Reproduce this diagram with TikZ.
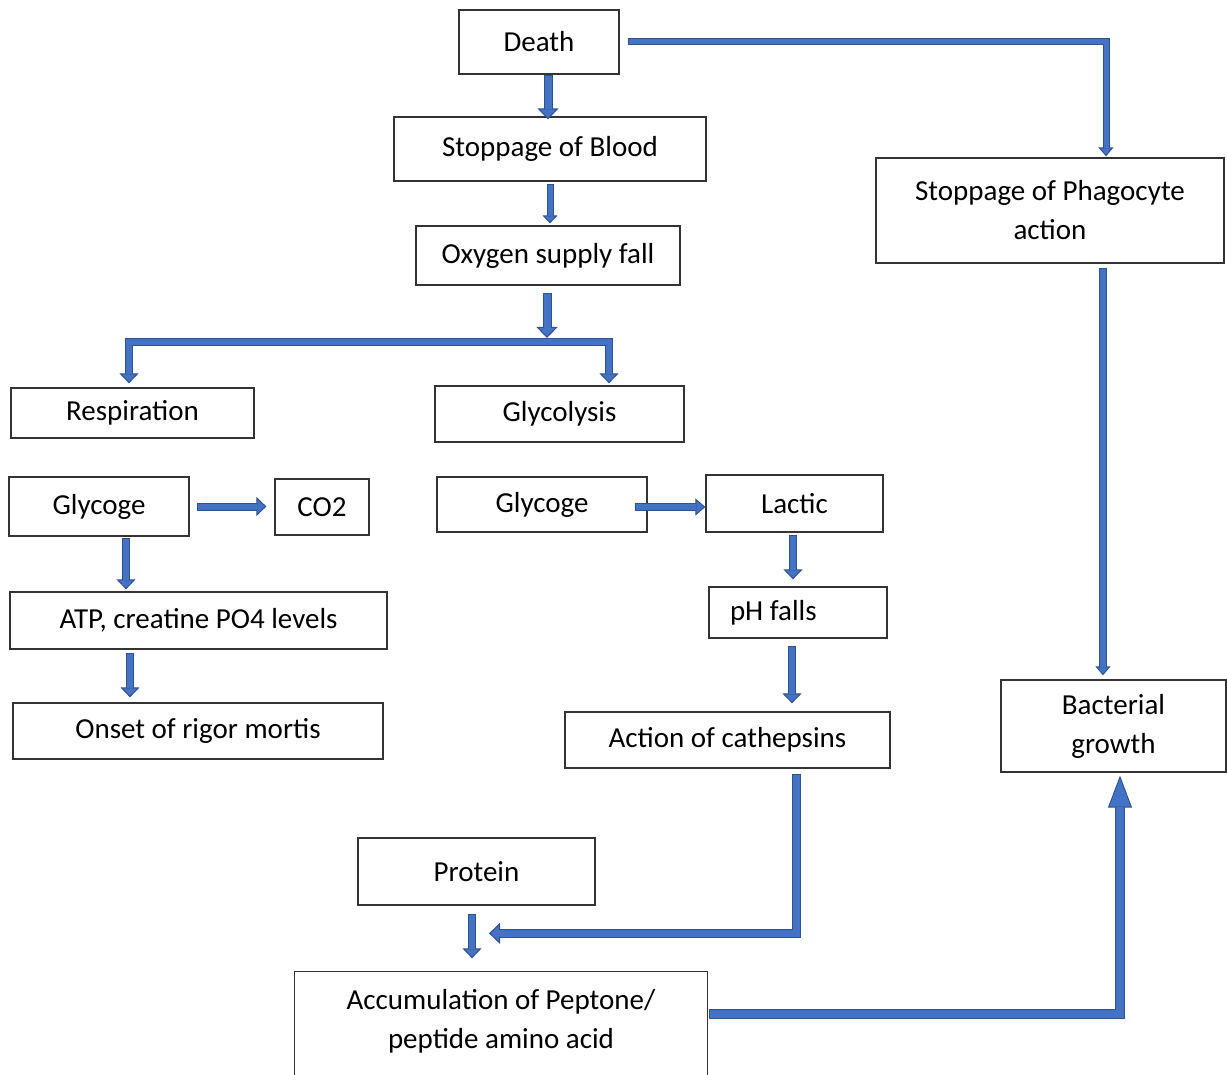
\documentclass[tikz,border=0pt]{standalone}
\usepackage{fontspec}
\setmainfont{Carlito}
\usetikzlibrary{arrows.meta,calc}
\definecolor{afill}{HTML}{4472C4}
\definecolor{aedge}{HTML}{2F528F}
\tikzset{
  box/.style={draw=black!80, line width=1.3, inner sep=0, align=center,
    font=\fontsize{29}{39}\selectfont},
  blockarrow/.style n args={5}{% shaft, inner, head width, head length, shorten
    draw=aedge, line width=#1, line join=miter,
    arrows={-Triangle[width=#3,length=#4,fill=afill,line width=1]},
    postaction={draw=afill, line width=#2, arrows=-, shorten >=#5, shorten <=1, line join=miter}},
  dblarrow/.style n args={5}{%
    draw=aedge, line width=#1, line join=miter,
    arrows={Triangle[width=#3,length=#4,fill=afill,line width=1]-Triangle[width=#3,length=#4,fill=afill,line width=1]},
    postaction={draw=afill, line width=#2, arrows=-, shorten >=#5, shorten <=#5, line join=miter}},
}
\begin{document}
\begin{tikzpicture}[x=1pt,y=-1pt]
\useasboundingbox (0,0) rectangle (1227,1075);
\clip (0,0) rectangle (1227,1075);
\fill[white] (0,0) rectangle (1227,1075);

% boxes
\node[box, minimum width=160, minimum height=64] (death) at (539,42) {Death};
\node[box, minimum width=312, minimum height=64] (sob) at (550,149) {Stoppage of Blood};
\node[box, minimum width=264, minimum height=59] (oxy) at (548,255.5) {Oxygen supply fall};
\node[box, minimum width=348, minimum height=105] (phago) at (1050,210.5) {Stoppage of Phagocyte\\action};
\node[box, minimum width=243, minimum height=50] (resp) at (132.5,413) {Respiration};
\node[box, minimum width=249, minimum height=56] (glycol) at (559.5,414) {Glycolysis};
\node[box, minimum width=180, minimum height=59] (glyL) at (99,506.5) {Glycoge};
\node[box, minimum width=94, minimum height=56] (co2) at (322,507) {CO2};
\node[box, minimum width=210, minimum height=55] (glyM) at (542,504.5) {Glycoge};
\node[box, minimum width=177, minimum height=57] (lactic) at (794.5,503.5) {Lactic};
\node[box, minimum width=178, minimum height=51] (ph) at (798,612.5) {\makebox[136pt][l]{pH falls}};
\node[box, minimum width=377, minimum height=57] (atp) at (198.5,620.5) {ATP, creatine PO4 levels};
\node[box, minimum width=370, minimum height=56] (onset) at (198,731) {Onset of rigor mortis};
\node[box, minimum width=325, minimum height=56] (cath) at (727.5,740) {Action of cathepsins};
\node[box, minimum width=225, minimum height=92] (bact) at (1113.5,726) {Bacterial\\growth};
\node[box, minimum width=237, minimum height=67] (protein) at (476.5,871.5) {Protein};
\node[box, draw=none, minimum width=412, minimum height=99] (acc) at (501,1021.5) {Accumulation of Peptone/\\peptide amino acid};
\draw[black!80, line width=1.3] ([yshift=-20]acc.south west) -- (acc.north west) -- (acc.north east) -- ([yshift=-20]acc.south east);

\coordinate (split) at (547,342);

% connectors
\draw[blockarrow={9}{7}{21}{11}{10}] ($(death.south)+(9,0)$) -- ($(sob.north)+(-2,3)$);
\draw[blockarrow={7}{5}{15}{9}{8}] ($(death.east)+(8,0)$) -| ($(phago.north)+(56,-1)$);
\draw[blockarrow={7}{5}{15}{8}{7}] ($(sob.south)+(0,2)$) -- ($(oxy.north)+(2,-2)$);
\draw[blockarrow={9}{7}{21}{11}{10}] ($(oxy.south)+(-1,7)$) -- ($(split)+(0,-4)$);
\draw[dblarrow={8}{6}{19}{10}{9}] ($(resp.north)+(-3.5,-4)$) |- (split) -| ($(glycol.north)+(49.5,-2)$);
\draw[blockarrow={8}{6}{19}{10}{9}] ($(glyL.east)+(7,0)$) -- ($(co2.west)+(-8,-0.5)$);
\draw[blockarrow={8}{6}{19}{10}{9}] ($(glyL.south)+(27,1)$) -- ($(atp.north)+(-72.5,-2)$);
\draw[blockarrow={8}{6}{19}{10}{9}] ($(atp.south)+(-68.5,3)$) -- ($(onset.north)+(-68,-5)$);
\draw[blockarrow={8}{6}{17}{10}{9}] ($(glyM.east)+(-13,2.5)$) -- ($(lactic.west)+(0,3.5)$);
\draw[blockarrow={8}{6}{19}{10}{9}] ($(lactic.south)+(-1.5,2)$) -- ($(ph.north)+(-5,-7)$);
\draw[blockarrow={8}{6}{19}{10}{9}] ($(ph.south)+(-6,7)$) -- ($(cath.north)+(64.5,-8)$);
\draw[blockarrow={9}{7}{21}{11}{10}] ($(cath.south)+(68.5,5)$) |- ($(acc.north)+(-12,-38)$);
\draw[blockarrow={8}{6}{19}{10}{9}] ($(protein.south)+(-4.5,8)$) -- ($(acc.north)+(-29,-13)$);
\draw[blockarrow={10}{8}{24}{32}{31}] ($(acc.east)+(1,-7.5)$) -| ($(bact.south)+(6.5,3)$);
\draw[blockarrow={8}{6}{15}{9}{8}] ($(phago.south)+(53,4)$) -- ($(bact.north)+(-10.5,-4)$);
\end{tikzpicture}
\end{document}
